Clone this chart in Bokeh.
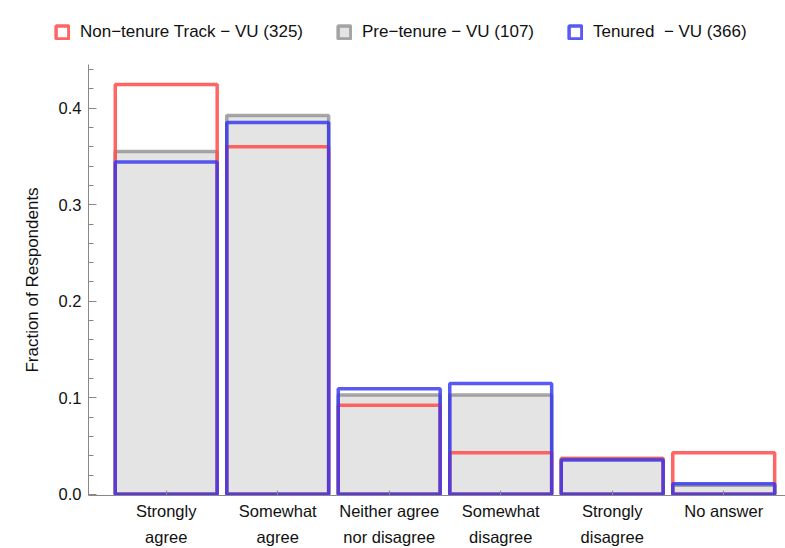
from bokeh.plotting import figure
from bokeh.models import (FixedTicker, NumeralTickFormatter, Legend, LegendItem,
                          Range1d, ColumnDataSource)
from bokeh.embed import file_html
from bokeh.resources import INLINE

# ---- data ----
categories = ["Strongly\nagree", "Somewhat\nagree", "Neither agree\nnor disagree",
              "Somewhat\ndisagree", "Strongly\ndisagree", "No answer"]
non_tenure = [0.4246, 0.3600, 0.0923, 0.0431, 0.0369, 0.0431]
pre_tenure = [0.3551, 0.3925, 0.1028, 0.1028, 0.0374, 0.0093]
tenured = [0.3443, 0.3852, 0.1093, 0.1148, 0.0355, 0.0109]
series_labels = ["Non\u2212tenure Track \u2212 VU (325)",
                 "Pre\u2212tenure \u2212 VU (107)",
                 "Tenured  \u2212 VU (366)"]
y_ticks = [0.0, 0.1, 0.2, 0.3, 0.4]
y_minor = [0.02, 0.04, 0.06, 0.08, 0.12, 0.14, 0.16, 0.18, 0.22, 0.24, 0.26,
           0.28, 0.32, 0.34, 0.36, 0.38, 0.42, 0.44]

FONT = "Liberation Sans"
xs = list(range(1, len(categories) + 1))
half = 0.457

GRAY = dict(fill_color="#e4e4e4", fill_alpha=1.0, line_color="#8a8a8a",
            line_alpha=0.75, line_width=3.5)
RED = dict(fill_alpha=0.0, line_color="#ff5050", line_alpha=0.88, line_width=3.5)
BLUE = dict(fill_alpha=0.0, line_color="#3535f2", line_alpha=0.82, line_width=3.5)


def src(vals):
    return ColumnDataSource(dict(left=[x - half for x in xs],
                                 right=[x + half for x in xs],
                                 top=vals, bottom=[0] * len(vals)))


s_red, s_gray, s_blue = src(non_tenure), src(pre_tenure), src(tenured)
QK = dict(left="left", right="right", top="top", bottom="bottom")

# ---- legend strip (the bars of this strip lie outside its visible range) ----
lf = figure(width=785, height=64, output_backend="svg", toolbar_location=None,
            x_range=Range1d(0, 785), y_range=Range1d(10, 11),
            min_border_left=0, min_border_right=0, min_border_top=0,
            min_border_bottom=0, x_axis_location=None, y_axis_location=None)
lf.outline_line_color = None
lf.grid.grid_line_color = None
d_red = lf.quad(source=s_red, **QK, **RED)
d_gray = lf.quad(source=s_gray, **QK, **GRAY)
d_blue = lf.quad(source=s_blue, **QK, **BLUE)
legend = Legend(items=[LegendItem(label=series_labels[0], renderers=[d_red]),
                       LegendItem(label=series_labels[1], renderers=[d_gray]),
                       LegendItem(label=series_labels[2], renderers=[d_blue])],
                orientation="horizontal", location=(54, 22))
legend.label_text_font = FONT
legend.label_text_font_size = "17px"
legend.label_text_color = "#111111"
legend.glyph_width = 16
legend.glyph_height = 16
legend.label_standoff = 10
legend.spacing = 33
legend.padding = 4
legend.margin = 0
legend.border_line_color = None
legend.background_fill_alpha = 0
lf.add_layout(legend, "center")

# ---- main chart ----
p = figure(width=785, height=484, output_backend="svg", toolbar_location=None,
           x_range=Range1d(0.303, 6.554), y_range=Range1d(-0.0012, 0.4453),
           min_border_left=88, min_border_right=0, min_border_top=0,
           min_border_bottom=52)
p.outline_line_color = None
p.grid.grid_line_color = None
p.background_fill_color = "white"

p.quad(source=s_gray, **QK, **GRAY)
p.quad(source=s_red, **QK, **RED)
p.quad(source=s_blue, **QK, **BLUE)

# y axis
ya = p.yaxis[0]
ya.ticker = FixedTicker(ticks=y_ticks, minor_ticks=y_minor)
ya.formatter = NumeralTickFormatter(format="0.0")
ya.axis_label = "Fraction of Respondents"
ya.axis_label_text_font = FONT
ya.axis_label_text_font_size = "17px"
ya.axis_label_text_font_style = "normal"
ya.axis_label_text_color = "#111111"
ya.axis_label_standoff = 14
ya.major_label_text_font = FONT
ya.major_label_text_font_size = "16.5px"
ya.major_label_text_color = "#111111"
ya.major_label_standoff = 7
ya.major_tick_in = 8
ya.major_tick_out = 0
ya.minor_tick_in = 5
ya.minor_tick_out = 0
ya.axis_line_color = "#888888"
ya.major_tick_line_color = "#888888"
ya.minor_tick_line_color = "#888888"

# x axis
xa = p.xaxis[0]
xa.ticker = FixedTicker(ticks=xs)
xa.major_label_overrides = {x: c for x, c in zip(xs, categories)}
xa.major_label_text_font = FONT
xa.major_label_text_font_size = "16.5px"
xa.major_label_text_color = "#111111"
xa.major_label_text_line_height = 1.45
xa.major_label_standoff = 6
xa.major_tick_in = 5
xa.major_tick_out = 0
xa.minor_tick_line_color = None
xa.axis_line_color = "#888888"
xa.major_tick_line_color = "#888888"

open("out.html", "w").write(file_html([lf, p], INLINE))
